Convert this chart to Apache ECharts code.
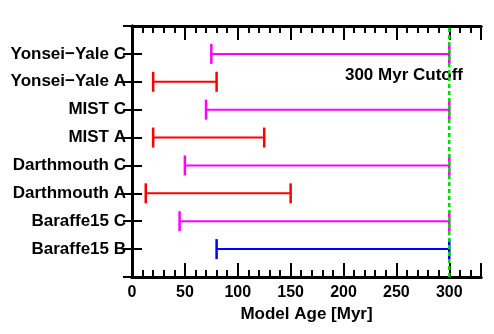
<!DOCTYPE html>
<html>
<head>
<meta charset="utf-8">
<script src="https://cdn.jsdelivr.net/npm/echarts@6/dist/echarts.min.js"></script>
<style>
  html, body { margin: 0; padding: 0; background: #fff; }
  #chart { width: 494px; height: 334px; }
</style>
</head>
<body>
<div id="chart"></div>
<script>
// bottom to top
const models = ['Baraffe15 B', 'Baraffe15 C', 'Darthmouth A', 'Darthmouth C',
                'MIST A', 'MIST C', 'Yonsei\u2212Yale A', 'Yonsei\u2212Yale C'];
const ageLow  = [80, 45, 13, 50, 20, 70, 20, 75];
const ageHigh = [300, 300, 150, 300, 125, 300, 80, 300];
const cutoff = 300;
const xTicks = [0, 50, 100, 150, 200, 250, 300];

const colorFor = { A: '#ff0000', B: '#0000ff', C: '#ff00ff' };
const font = 'Liberation Sans, Arial, Helvetica, sans-serif';

const rows = models.map((m, i) => [ageLow[i], ageHigh[i], i + 1, m.slice(-1)]);

const myChart = echarts.init(document.getElementById('chart'));

const renderBar = (params, api) => {
  const lo = api.coord([api.value(0), api.value(2)]);
  const hi = api.coord([api.value(1), api.value(2)]);
  const col = colorFor[rows[params.dataIndex][3]];
  const cap = 10;
  const st = { stroke: col, lineWidth: 2.5 };
  return {
    type: 'group',
    children: [
      { type: 'line', shape: { x1: lo[0], y1: lo[1], x2: hi[0], y2: hi[1] }, style: { stroke: col, lineWidth: 2 } },
      { type: 'line', shape: { x1: lo[0], y1: lo[1] - cap, x2: lo[0], y2: lo[1] + cap }, style: st },
      { type: 'line', shape: { x1: hi[0], y1: hi[1] - cap, x2: hi[0], y2: hi[1] + cap }, style: st }
    ]
  };
};

const axisLine = { show: true, lineStyle: { color: '#000', width: 3 } };
const tickLabel = { fontFamily: font, fontWeight: 'bold', fontSize: 16, color: '#000' };

let option = {
  animation: false,
  grid: { left: 132, right: 13, top: 26, bottom: 57 },
  xAxis: [
    {
      type: 'value', min: 0, max: 330, interval: 50, position: 'bottom',
      axisLine: axisLine,
      axisTick: { inside: true, length: 14, lineStyle: { color: '#000', width: 2 } },
      axisLabel: {
        ...tickLabel, margin: 8,
        formatter: v => (xTicks.indexOf(v) >= 0 ? String(v) : '')
      },
      splitLine: { show: false },
      name: 'Model Age [Myr]', nameLocation: 'middle', nameGap: 27,
      nameTextStyle: { fontFamily: font, fontWeight: 'bold', fontSize: 17, color: '#000' }
    },
    {
      type: 'value', min: 0, max: 330, interval: 10, position: 'bottom',
      axisLine: axisLine,
      axisTick: { inside: true, length: 7, lineStyle: { color: '#000', width: 2 } },
      axisLabel: { show: false }, splitLine: { show: false }
    },
    {
      type: 'value', min: 0, max: 330, interval: 50, position: 'top',
      axisLine: axisLine,
      axisTick: { inside: true, length: 14, lineStyle: { color: '#000', width: 2 } },
      axisLabel: { show: false }, splitLine: { show: false }
    },
    {
      type: 'value', min: 0, max: 330, interval: 10, position: 'top',
      axisLine: axisLine,
      axisTick: { inside: true, length: 7, lineStyle: { color: '#000', width: 2 } },
      axisLabel: { show: false }, splitLine: { show: false }
    }
  ],
  yAxis: [
    {
      type: 'value', min: 0, max: models.length + 1, interval: 1, position: 'left',
      axisLine: axisLine,
      axisTick: { inside: true, length: 10, lineStyle: { color: '#000', width: 2 } },
      axisLabel: {
        fontFamily: font, fontWeight: 'bold', fontSize: 17, color: '#000', margin: 6,
        formatter: v => models[v - 1] || ''
      },
      splitLine: { show: false }
    },
    {
      type: 'value', min: 0, max: models.length + 1, interval: 1, position: 'right',
      axisLine: axisLine,
      axisTick: { inside: true, length: 9, lineStyle: { color: '#000', width: 2 } },
      axisLabel: { show: false }, splitLine: { show: false }
    }
  ],
  series: [
    {
      type: 'custom',
      renderItem: renderBar,
      encode: { x: [0, 1], y: 2 },
      data: rows.map(r => [r[0], r[1], r[2]]),
      z: 2
    },
    {
      type: 'line',
      data: [[cutoff, 0], [cutoff, models.length + 1]],
      symbol: 'none',
      lineStyle: { color: '#00e000', width: 2.5, type: [4, 3] },
      z: 5,
      silent: true
    }
  ],
  graphic: [
    {
      type: 'text', right: 31, top: 67,
      style: { text: '300 Myr Cutoff', fontFamily: font, fontWeight: 'bold', fontSize: 17, fill: '#000' }
    }
  ]
};

option && myChart.setOption(option);
</script>
</body>
</html>
